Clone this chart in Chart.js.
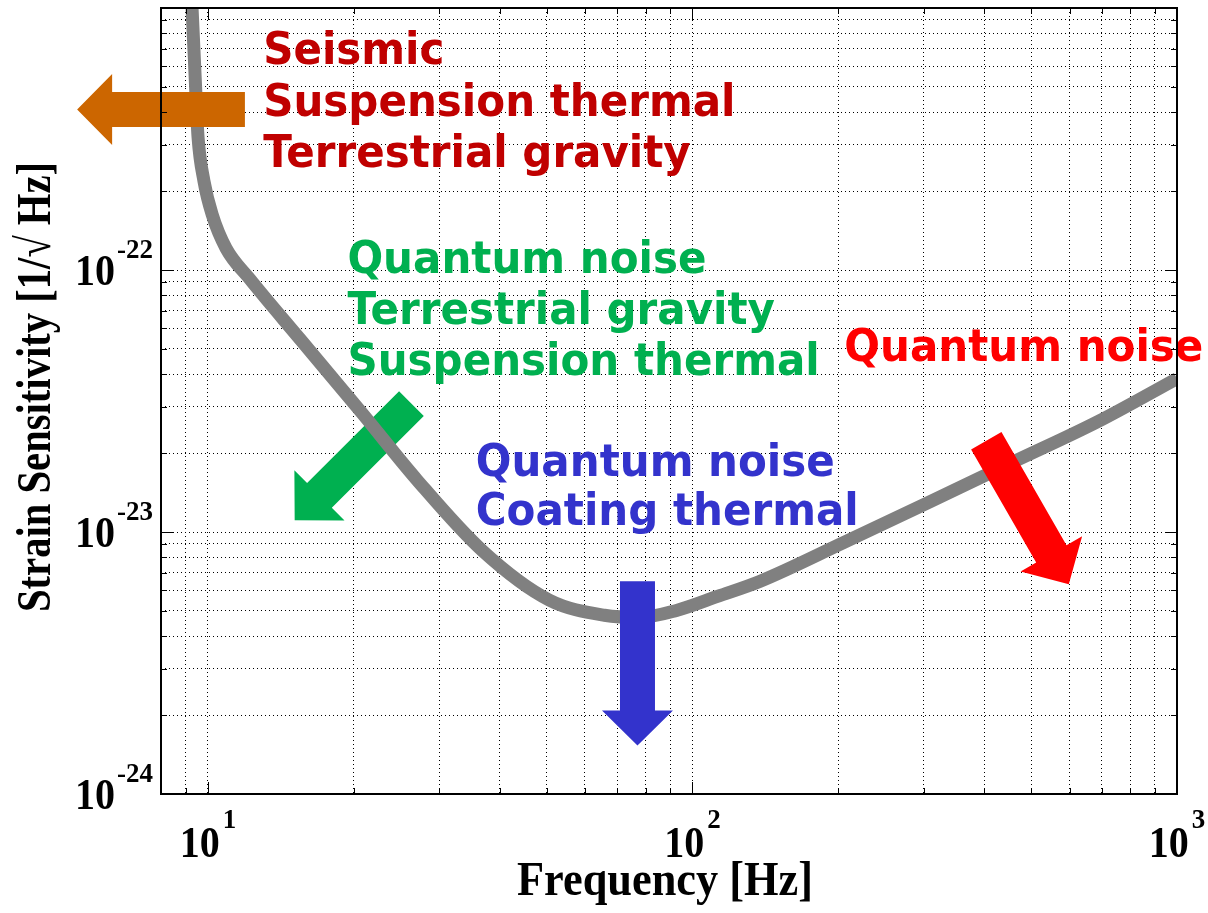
<!DOCTYPE html>
<html>
<head>
<meta charset="utf-8">
<title>Strain sensitivity</title>
<script src="https://cdn.jsdelivr.net/npm/chart.js@4.4.1/dist/chart.umd.min.js"></script>
<style>
  html, body { margin: 0; padding: 0; background: #fff; }
  canvas { display: block; }
</style>
</head>
<body>
<canvas id="sens" width="1208" height="913"></canvas>
<script>
// sensitivity curve: frequency [Hz] vs strain [1/sqrt(Hz)]
const freq = [9.15, 9.27, 9.45, 9.54, 9.81, 10.2, 10.9, 12.2, 15.5, 20.9, 27.0, 36.9, 50.7,
  65.8, 77.8, 92.7, 113, 138, 206, 308, 459, 687, 1000];
const strain = [1.5e-21, 1.01e-21, 4.56e-22, 3.21e-22, 2.19e-22, 1.63e-22, 1.21e-22, 9.24e-23, 5.44e-23,
  2.81e-23, 1.58e-23, 8.46e-24, 5.49e-24, 4.81e-24, 4.72e-24, 5.02e-24, 5.69e-24, 6.49e-24, 9.15e-24,
  1.30e-23, 1.85e-23, 2.64e-23, 3.85e-23];

// axis ranges and labelled decades
const xRange = [8, 1000];
const yRange = [1e-24, 1e-21];
const xDecades = [10, 100, 1000];
const xExponents = ['1', '2', '3'];
const yDecades = [1e-24, 1e-23, 1e-22];
const yExponents = ['-24', '-23', '-22'];

const xTitle = 'Frequency [Hz]';
const yTitle = 'Strain Sensitivity [1/\u221A Hz]';

// noise sources that limit each band
const noteTexts = [
  ['Seismic', 'Suspension thermal', 'Terrestrial gravity'],
  ['Quantum noise', 'Terrestrial gravity', 'Suspension thermal'],
  ['Quantum noise', 'Coating thermal'],
  ['Quantum noise']
];

// where notes and arrows sit, in [Hz, strain]
const noteStyles = [
  { color: '#c00000', at: [13.0, 6.1e-22], pitch: 51.5 },
  { color: '#00b050', at: [19.4, 9.74e-23], pitch: 51 },
  { color: '#3333cc', at: [35.7, 1.63e-23], pitch: 49 },
  { color: '#ff0000', at: [205.8, 4.48e-23], pitch: 50 }
];
const arrows = [
  { from: [11.92, 4.1e-22], to: [5.37, 4.1e-22], color: '#cc6600', top: true },
  { from: [26.3, 3.09e-23], to: [15.1, 1.11e-23], color: '#00b050', top: false },
  { from: [77, 6.49e-24], to: [77, 1.53e-24], color: '#3333cc', top: true },
  { from: [404, 2.23e-23], to: [598, 6.32e-24], color: '#ff0000', top: true }
];

function logGrid(lo, hi) {
  const out = [];
  for (let e = Math.floor(Math.log10(lo)); e <= Math.ceil(Math.log10(hi)); e++) {
    for (let m = 1; m < 10; m++) {
      const v = m * Math.pow(10, e);
      if (v >= lo * 0.999 && v <= hi * 1.001) out.push(v);
    }
  }
  return out;
}
const isDecade = v => Math.abs(Math.log10(v) - Math.round(Math.log10(v))) < 1e-6;

const xGrid = logGrid(xRange[0], xRange[1]);
const yGrid = logGrid(yRange[0], yRange[1]);

const SERIF = '"Liberation Serif", "Times New Roman", serif';
const SANS = '"DejaVu Sans", Verdana, sans-serif';

function textAt(ctx, str, x, y, font, sx, align) {
  ctx.save();
  ctx.font = font;
  ctx.translate(x, y);
  ctx.scale(sx, 1);
  ctx.textAlign = align || 'left';
  ctx.textBaseline = 'alphabetic';
  ctx.fillText(str, 0, 0);
  ctx.restore();
}

function blockArrow(ctx, x0, y0, x1, y1, color) {
  const len = Math.hypot(x1 - x0, y1 - y0);
  const shaft = 35, head = 71, headLen = 35;
  ctx.save();
  ctx.translate(x0, y0);
  ctx.rotate(Math.atan2(y1 - y0, x1 - x0));
  ctx.beginPath();
  ctx.moveTo(0, -shaft / 2);
  ctx.lineTo(len - headLen, -shaft / 2);
  ctx.lineTo(len - headLen, -head / 2);
  ctx.lineTo(len, 0);
  ctx.lineTo(len - headLen, head / 2);
  ctx.lineTo(len - headLen, shaft / 2);
  ctx.lineTo(0, shaft / 2);
  ctx.closePath();
  ctx.fillStyle = color;
  ctx.fill();
  ctx.restore();
}

function drawArrows(chart, onTop) {
  const { ctx, scales: { x, y } } = chart;
  arrows.filter(a => a.top === onTop).forEach(a => {
    blockArrow(ctx,
      x.getPixelForValue(a.from[0]), y.getPixelForValue(a.from[1]),
      x.getPixelForValue(a.to[0]), y.getPixelForValue(a.to[1]), a.color);
  });
}

const decorations = {
  id: 'decorations',
  beforeDatasetsDraw(chart) {
    drawArrows(chart, false);
  },
  afterDatasetsDraw(chart) {
    const { ctx, scales: { x, y } } = chart;
    drawArrows(chart, true);
    noteTexts.forEach((lines, i) => {
      const st = noteStyles[i];
      const px = x.getPixelForValue(st.at[0]);
      const py = y.getPixelForValue(st.at[1]);
      ctx.fillStyle = st.color;
      lines.forEach((line, j) => textAt(ctx, line, px, py + j * st.pitch, 'bold 44px ' + SANS, 0.955));
    });
  },
  afterDraw(chart) {
    const { ctx, chartArea: a, scales: { x, y } } = chart;

    // inward tick marks on all four sides
    ctx.save();
    ctx.strokeStyle = '#000';
    ctx.lineWidth = 1;
    ctx.beginPath();
    xGrid.forEach(v => {
      const px = Math.round(x.getPixelForValue(v)) + 0.5;
      const len = isDecade(v) ? 12 : 6;
      ctx.moveTo(px, a.bottom); ctx.lineTo(px, a.bottom - len);
      ctx.moveTo(px, a.top); ctx.lineTo(px, a.top + len);
    });
    yGrid.forEach(v => {
      const py = Math.round(y.getPixelForValue(v)) + 0.5;
      const len = isDecade(v) ? 12 : 6;
      ctx.moveTo(a.left, py); ctx.lineTo(a.left + len, py);
      ctx.moveTo(a.right, py); ctx.lineTo(a.right - len, py);
    });
    ctx.stroke();

    // box
    ctx.lineWidth = 2;
    ctx.strokeRect(a.left, a.top, a.right - a.left, a.bottom - a.top);
    ctx.restore();

    // tick labels as 10^n
    ctx.fillStyle = '#000';
    const baseFont = 'bold 44px ' + SERIF;
    const expFont = 'bold 27px ' + SERIF;
    const sx = 0.91;
    ctx.font = baseFont;
    const baseW = ctx.measureText('10').width * sx;

    yDecades.forEach((v, i) => {
      const py = y.getPixelForValue(v);
      ctx.font = expFont;
      const expW = ctx.measureText(yExponents[i]).width;
      const right = a.left - 8;
      textAt(ctx, yExponents[i], right, py - 12, expFont, 1, 'right');
      textAt(ctx, '10', right - expW - 2, py + 15, baseFont, sx, 'right');
    });

    xDecades.forEach((v, i) => {
      const px = x.getPixelForValue(v);
      ctx.font = expFont;
      const expW = ctx.measureText(xExponents[i]).width;
      const left = px - (baseW + 3 + expW) / 2;
      textAt(ctx, '10', left, a.bottom + 63, baseFont, sx, 'left');
      textAt(ctx, xExponents[i], left + baseW + 3, a.bottom + 34, expFont, 1, 'left');
    });

    // axis titles, squeezed to their printed widths
    const titleFont = 'bold 48px ' + SERIF;
    ctx.font = titleFont;
    const xsx = 296 / ctx.measureText(xTitle).width;
    textAt(ctx, xTitle, (a.left + a.right) / 2 - 4, a.bottom + 101, titleFont, xsx, 'center');

    const ysx = 450 / ctx.measureText(yTitle).width;
    ctx.save();
    ctx.translate(50, (a.top + a.bottom) / 2 - 14);
    ctx.rotate(-Math.PI / 2);
    textAt(ctx, yTitle, 0, 0, titleFont, ysx, 'center');
    ctx.restore();
  }
};

const gridStyle = { color: '#000', lineWidth: 1, drawTicks: false };

new Chart(document.getElementById('sens'), {
  type: 'line',
  data: {
    datasets: [{
      data: freq.map((f, i) => ({ x: f, y: strain[i] })),
      borderColor: '#808080',
      borderWidth: 13,
      pointRadius: 0,
      cubicInterpolationMode: 'monotone',
      borderCapStyle: 'butt',
      borderJoinStyle: 'round',
      clip: 0
    }]
  },
  options: {
    responsive: false,
    animation: false,
    events: [],
    layout: { padding: { left: 161, top: 8, right: 31, bottom: 119 } },
    plugins: { legend: { display: false }, tooltip: { enabled: false } },
    scales: {
      x: {
        type: 'logarithmic',
        min: xRange[0],
        max: xRange[1],
        grid: gridStyle,
        border: { display: false, dash: [1, 3] },
        ticks: { display: false },
        afterBuildTicks: s => { s.ticks = xGrid.map(v => ({ value: v })); }
      },
      y: {
        type: 'logarithmic',
        min: yRange[0],
        max: yRange[1],
        grid: gridStyle,
        border: { display: false, dash: [1, 3] },
        ticks: { display: false },
        afterBuildTicks: s => { s.ticks = yGrid.map(v => ({ value: v })); }
      }
    }
  },
  plugins: [decorations]
});
</script>
</body>
</html>
